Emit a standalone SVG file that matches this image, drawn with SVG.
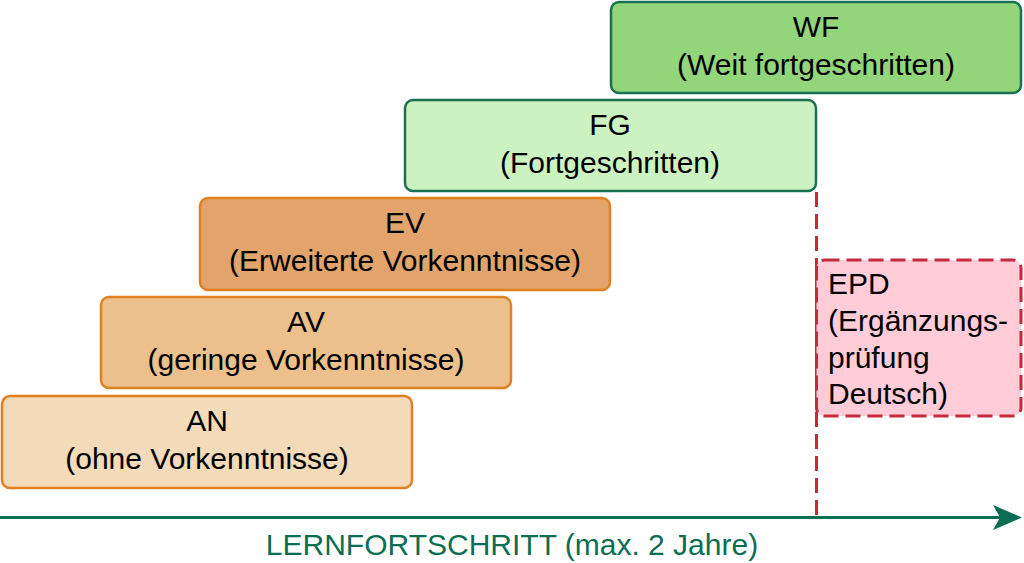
<svg xmlns="http://www.w3.org/2000/svg" width="1024" height="563" viewBox="0 0 1024 563">
<style>
.box{stroke-width:2.5}
.g{stroke:#1b6f52}
.o{stroke:#e0801f}
.t{font-family:"Liberation Sans",Arial,sans-serif;font-size:30px;fill:#000;text-anchor:middle}
.tl{font-family:"Liberation Sans",Arial,sans-serif;font-size:30px;fill:#000}
.ax{font-family:"Liberation Sans",Arial,sans-serif;font-size:30px;fill:#0a6e52;text-anchor:middle}
.d{stroke:#c8283c;stroke-width:3;stroke-dasharray:15,7}
</style>
<g id="connectors">
<line class="d" x1="816.5" y1="192" x2="816.5" y2="517"/>
<line x1="0" y1="517.5" x2="1012" y2="517.5" stroke="#0a6e52" stroke-width="3"/>
<path d="M993,505 L1022,517.5 L993,530 L1000,517.5 Z" fill="#0a6e52"/>
</g>
<g id="WF">
<rect class="box g" x="611" y="2" width="410" height="91" rx="8" fill="#93d57b"/>
<text class="t" x="816" y="37">WF</text>
<text class="t" x="816" y="75">(Weit fortgeschritten)</text>
</g>
<g id="FG">
<rect class="box g" x="405" y="100" width="411" height="91" rx="8" fill="#ccf2c1"/>
<text class="t" x="610" y="135">FG</text>
<text class="t" x="610" y="173">(Fortgeschritten)</text>
</g>
<g id="EV">
<rect class="box o" x="200" y="198" width="410" height="92" rx="8" fill="#e2a46a"/>
<text class="t" x="405" y="233">EV</text>
<text class="t" x="405" y="271">(Erweiterte Vorkenntnisse)</text>
</g>
<g id="AV">
<rect class="box o" x="101" y="297" width="410" height="91" rx="8" fill="#ebc08c"/>
<text class="t" x="306" y="332">AV</text>
<text class="t" x="306" y="370">(geringe Vorkenntnisse)</text>
</g>
<g id="AN">
<rect class="box o" x="2" y="396" width="410" height="92" rx="8" fill="#f3dab9"/>
<text class="t" x="207" y="431">AN</text>
<text class="t" x="207" y="469">(ohne Vorkenntnisse)</text>
</g>
<g id="EPD">
<rect class="d" x="816.5" y="260" width="204.5" height="156" rx="8" fill="#ffccd7"/>
<text class="tl" x="828" y="294">EPD</text>
<text class="tl" x="828" y="331">(Ergänzungs-</text>
<text class="tl" x="828" y="368">prüfung</text>
<text class="tl" x="828" y="404">Deutsch)</text>
</g>
<g id="axis-label">
<text class="ax" x="512" y="555">LERNFORTSCHRITT (max. 2 Jahre)</text>
</g>
</svg>
